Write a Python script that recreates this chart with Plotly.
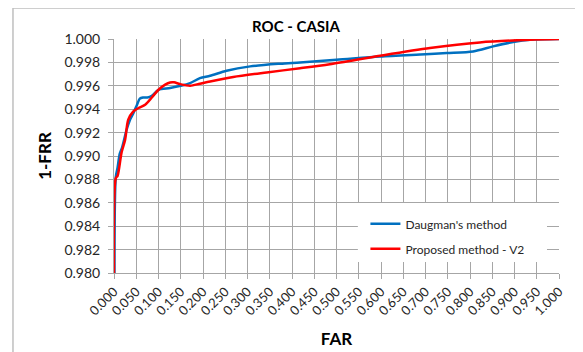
import plotly.graph_objects as go

title_text = "ROC - CASIA"
x_title = "FAR"
y_title = "1-FRR"

daugman_far = [0.001, 0.004, 0.008, 0.013, 0.018, 0.028, 0.036, 0.044, 0.052, 0.058, 0.065,
               0.075, 0.085, 0.100, 0.126, 0.150, 0.171, 0.193, 0.216, 0.253, 0.306, 0.373,
               0.418, 0.500, 0.598, 0.700, 0.748, 0.807, 0.852, 0.897, 0.935, 1.000]
daugman_val = [0.9800, 0.9882, 0.9890, 0.9902, 0.9907, 0.9922, 0.9931, 0.9937, 0.9944, 0.9949, 0.9950,
               0.9950, 0.99515, 0.99566, 0.99581, 0.99600, 0.99623, 0.99666, 0.99686, 0.99729, 0.99766, 0.99789,
               0.99800, 0.99822, 0.99851, 0.99870, 0.99880, 0.99894, 0.99937, 0.99974, 0.99994, 1.0000]

proposed_far = [0.000, 0.004, 0.008, 0.017, 0.025, 0.032, 0.043, 0.055, 0.070, 0.085, 0.100,
                0.115, 0.126, 0.135, 0.148, 0.171, 0.193, 0.216, 0.268, 0.343, 0.418, 0.485,
                0.598, 0.710, 0.822, 0.935, 1.000]
proposed_val = [0.9800, 0.9881, 0.9883, 0.9903, 0.9914, 0.9931, 0.9938, 0.9941, 0.99438, 0.9950, 0.99566,
                0.9961, 0.99629, 0.99630, 0.99615, 0.99600, 0.99618, 0.99637, 0.99675, 0.99714, 0.99750, 0.99785,
                0.99857, 0.99923, 0.99971, 0.99994, 1.0000]

x_ticks = [i * 0.05 for i in range(21)]
y_ticks = [0.980 + i * 0.002 for i in range(11)]

FONT = "Lato, 'Open Sans', Arial, sans-serif"
GRID = "#a6a6a6"

fig = go.Figure()
fig.add_trace(go.Scatter(x=daugman_far, y=daugman_val, mode="lines", name="Daugman's method",
                         legendgroup="a",
                         line=dict(color="#0070C0", width=2.5, shape="spline", smoothing=0.8)))
fig.add_trace(go.Scatter(x=proposed_far, y=proposed_val, mode="lines", name="Proposed method - V2",
                         legendgroup="b",
                         line=dict(color="#FF0000", width=2.5, shape="spline", smoothing=0.8)))

fig.update_layout(
    width=583, height=352,
    margin=dict(l=106, r=32, t=31, b=87),
    paper_bgcolor="white", plot_bgcolor="white",
    font=dict(family=FONT, size=13, color="#262626"),
    title=dict(text="<b>%s</b>" % title_text, x=288 / 583, xanchor="center",
               y=1 - 19 / 352, yanchor="middle", font=dict(size=15, color="#000000")),
    showlegend=True,
    legend=dict(x=0.565, y=0.272, xanchor="left", yanchor="top",
                bgcolor="rgba(0,0,0,0)", traceorder="grouped", tracegroupgap=6,
                font=dict(size=12, color="#262626")),
    shapes=[
        dict(type="rect", xref="paper", yref="paper", x0=0.548, x1=0.973, y0=0.047, y1=0.299,
             fillcolor="white", line=dict(width=0), layer="above"),
        dict(type="rect", xref="paper", yref="paper", x0=-0.227, x1=1.3, y0=-0.6, y1=1.1325,
             fillcolor="rgba(0,0,0,0)", line=dict(color="#bfbfbf", width=1.5), layer="below"),
    ],
)

fig.update_xaxes(
    range=[0, 1], tickvals=x_ticks, ticktext=["%.3f" % v for v in x_ticks],
    tickangle=-45, showgrid=True, gridcolor=GRID, gridwidth=1,
    showline=True, linecolor=GRID, linewidth=1,
    ticks="outside", ticklen=5, tickcolor=GRID,
    zeroline=False, tickfont=dict(size=13),
    title=dict(text="<b>%s</b>" % x_title, font=dict(size=17, color="#000000"), standoff=15),
)
fig.update_yaxes(
    range=[0.980, 1.000], tickvals=y_ticks, ticktext=["%.3f" % v for v in y_ticks],
    showgrid=True, gridcolor=GRID, gridwidth=1,
    showline=True, linecolor=GRID, linewidth=1,
    ticks="outside", ticklen=5, tickcolor=GRID, ticklabelstandoff=5,
    zeroline=False, tickfont=dict(size=14),
    title=dict(text="<b>%s</b>" % y_title, font=dict(size=17, color="#000000"), standoff=8),
)

fig.write_html("out.html")
